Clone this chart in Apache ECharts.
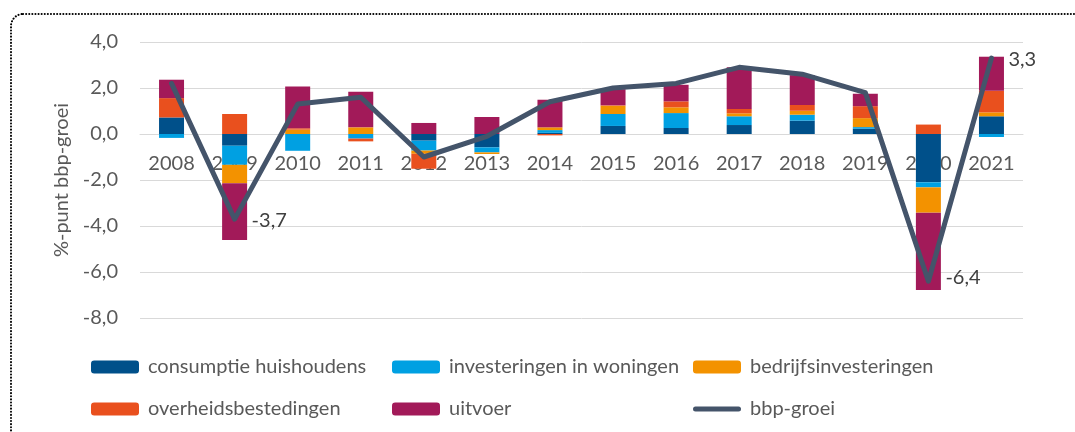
<!DOCTYPE html>
<html>
<head>
<meta charset="utf-8">
<script src="https://cdn.jsdelivr.net/npm/echarts@6/dist/echarts.min.js"></script>
<style>
  html, body { margin: 0; padding: 0; background: #fff; }
  #chart { width: 1075px; height: 432px; }
</style>
</head>
<body>
<div id="chart"></div>
<script>
const years = ['2008', '2009', '2010', '2011', '2012', '2013', '2014', '2015', '2016', '2017', '2018', '2019', '2020', '2021']

// bijdragen aan bbp-groei in %-punt
const consumptie = [0.72, -0.51, 0.0, 0.0, -0.29, -0.58, 0.05, 0.35, 0.26, 0.39, 0.58, 0.23, -2.10, 0.77]
const woningen = [-0.17, -0.83, -0.73, -0.20, -0.43, -0.22, 0.12, 0.52, 0.65, 0.38, 0.26, 0.07, -0.22, -0.13]
const bedrijf = [0.0, -0.80, 0.19, 0.29, -0.14, -0.07, 0.12, 0.36, 0.25, 0.13, 0.17, 0.39, -1.10, 0.17]
const overheid = [0.84, 0.87, 0.06, -0.12, -0.65, 0.0, -0.06, 0.02, 0.26, 0.19, 0.25, 0.52, 0.41, 0.94]
const uitvoer = [0.80, -2.47, 1.81, 1.55, 0.48, 0.74, 1.20, 0.70, 0.72, 1.81, 1.30, 0.54, -3.36, 1.48]
const bbpGroei = [2.2, -3.7, 1.3, 1.6, -1.0, -0.1, 1.4, 2.0, 2.2, 2.9, 2.6, 1.8, -6.4, 3.3]
const labelled = ['2009', '2020', '2021']

const yTicks = [-8, -6, -4, -2, 0, 2, 4]

const font = 'Lato'
const grey = '#595959'
const fs = 20
const fmt = v => Number(v).toFixed(1).replace('.', ',')

const bar = (name, data, color) => ({
  name,
  type: 'bar',
  stack: 'bbp',
  barWidth: 25,
  data,
  itemStyle: {color}
})

const legendAt = (name, left, top, icon) => ({
  data: [icon ? {name, icon} : name],
  left, top,
  itemWidth: 48,
  itemHeight: 13,
  padding: 0,
  selectedMode: false,
  textStyle: {color: grey, fontSize: fs, fontFamily: font, padding: [0, 0, 0, 4]}
})

const lineIcon = 'path://M2.5,0 L45.5,0 A2.5,2.5 0 0 1 45.5,5 L2.5,5 A2.5,2.5 0 0 1 2.5,0 Z'

const chart = echarts.init(document.getElementById('chart'))
chart.setOption({
  animation: false,
  textStyle: {fontFamily: font},
  graphic: [{
    type: 'rect',
    shape: {x: 11, y: 14, width: 1200, height: 600, r: 12},
    style: {fill: 'none', stroke: '#000', lineWidth: 2, lineDash: [0.1, 3], lineCap: 'round'},
    silent: true
  }],
  grid: {left: 140, right: 52, top: 42, bottom: 114},
  legend: [
    legendAt('consumptie huishoudens', 91, 357),
    legendAt('investeringen in woningen', 392, 357),
    legendAt('bedrijfsinvesteringen', 693, 357),
    legendAt('overheidsbestedingen', 91, 399),
    legendAt('uitvoer', 392, 399),
    legendAt('bbp-groei', 693, 399, lineIcon)
  ],
  xAxis: {
    type: 'category',
    data: years,
    axisLine: {onZero: true, lineStyle: {color: '#d9d9d9', width: 1}},
    axisTick: {show: false},
    axisLabel: {color: grey, fontSize: fs, margin: -164}
  },
  yAxis: {
    type: 'value',
    min: yTicks[0],
    max: yTicks[yTicks.length - 1],
    interval: 2,
    name: '%-punt bbp-groei',
    nameLocation: 'middle',
    nameGap: 66,
    nameTextStyle: {color: grey, fontSize: fs},
    axisLine: {show: false},
    axisTick: {show: false},
    axisLabel: {color: grey, fontSize: fs, margin: 22, formatter: fmt},
    splitLine: {lineStyle: {color: '#d9d9d9', width: 1}}
  },
  series: [
    bar('consumptie huishoudens', consumptie, '#00508a'),
    bar('investeringen in woningen', woningen, '#00a0e2'),
    bar('bedrijfsinvesteringen', bedrijf, '#f39200'),
    bar('overheidsbestedingen', overheid, '#e9501e'),
    bar('uitvoer', uitvoer, '#a21a59'),
    {
      name: 'bbp-groei',
      type: 'line',
      symbol: 'circle',
      symbolSize: 0,
      showSymbol: true,
      z: 5,
      itemStyle: {color: '#44546a'},
      lineStyle: {color: '#44546a', width: 5, cap: 'round', join: 'round'},
      data: bbpGroei.map((v, i) => labelled.includes(years[i]) ? {
        value: v,
        label: {
          show: true,
          position: 'right',
          distance: 17,
          offset: [0, years[i] === '2020' ? -4 : 1],
          color: '#404040',
          fontSize: fs,
          formatter: p => fmt(p.value)
        }
      } : v)
    }
  ]
})
</script>
</body>
</html>
